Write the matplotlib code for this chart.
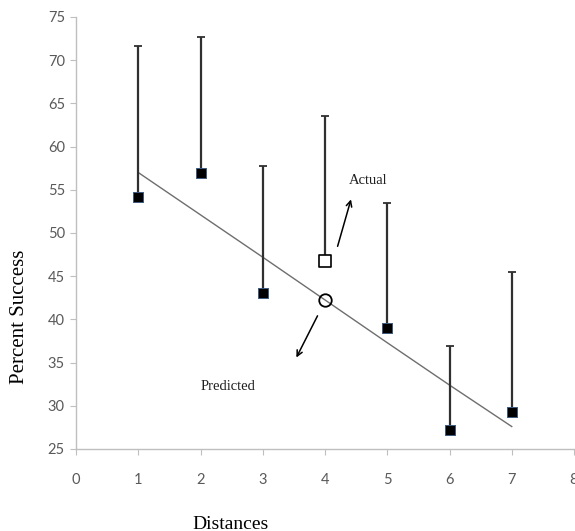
import matplotlib
matplotlib.use("Agg")
import matplotlib.pyplot as plt

distances = [1, 2, 3, 4, 5, 6, 7]
actual = [54.2, 57.0, 43.0, 46.8, 39.0, 27.2, 29.3]
upper = [71.7, 72.7, 57.7, 63.5, 53.5, 36.9, 45.5]
predicted = [57.0, 52.1, 47.2, 42.25, 37.3, 32.4, 27.6]
x_ticks = [0, 1, 2, 3, 4, 5, 6, 7, 8]
y_ticks = [25, 30, 35, 40, 45, 50, 55, 60, 65, 70, 75]

fig = plt.figure(figsize=(5.75, 5.31), dpi=100)
ax = fig.add_axes([76/575, 1-449/531, (574-76)/575, (449-17)/531])

ax.set_xlim(0, 8)
ax.set_ylim(25, 75)

# regression line
ax.plot(distances, predicted, color="#6e6e6e", lw=1.0, zorder=2)

# up-only error bars
yerr = [[0]*len(actual), [u - a for u, a in zip(upper, actual)]]
ax.errorbar(distances, actual, yerr=yerr, fmt="none", ecolor="#303030",
            elinewidth=1.6, capsize=3, capthick=1.3, zorder=3)

# markers (filled except the highlighted one at x=4)
fx = [d for d, a in zip(distances, actual) if d != 4]
fy = [a for d, a in zip(distances, actual) if d != 4]
ax.scatter(fx, fy, marker="s", s=60, facecolor="black", edgecolor="#3d5a80",
           linewidths=0.7, zorder=4)
ax.scatter([4], [actual[3]], marker="s", s=80, facecolor="white",
           edgecolor="black", linewidths=1.2, zorder=4)
ax.plot([4], [predicted[3]], marker="o", markersize=9, markerfacecolor="none",
        markeredgecolor="black", markeredgewidth=1.3, zorder=5,
        linestyle="none")

# annotations
ax.annotate("", xy=(4.43, 54.2), xytext=(4.19, 48.15),
            arrowprops=dict(arrowstyle="->", color="black", lw=1.1))
ax.annotate("", xy=(3.52, 35.3), xytext=(3.90, 40.7),
            arrowprops=dict(arrowstyle="->", color="black", lw=1.1))
ax.text(4.69, 56.1, "Actual", family="Liberation Serif", fontsize=10.5,
        ha="center", va="center", color="#202020")
ax.text(2.44, 32.2, "Predicted", family="Liberation Serif", fontsize=10.5,
        ha="center", va="center", color="#202020")

# axes styling
for s in ["top", "right"]:
    ax.spines[s].set_visible(False)
for s in ["left", "bottom"]:
    ax.spines[s].set_color("#bfbfbf")
    ax.spines[s].set_linewidth(1.0)

ax.set_xticks(x_ticks)
ax.set_yticks(y_ticks)
ax.tick_params(axis="both", colors="#bfbfbf", labelcolor="#595959",
               labelsize=10.5, length=4, direction="out")
ax.tick_params(axis="x", pad=13)
ax.tick_params(axis="y", pad=4)
for lab in ax.get_xticklabels() + ax.get_yticklabels():
    lab.set_family("Lato")

fig.text(20/575, 1-317/531, "Percent Success", family="Liberation Serif",
         fontsize=15, rotation=90, ha="center", va="center", color="black")
fig.text(231/575, 1-516/531, "Distances", family="Liberation Serif",
         fontsize=14, ha="center", va="top", color="black")

fig.savefig("out.png", dpi=100)
